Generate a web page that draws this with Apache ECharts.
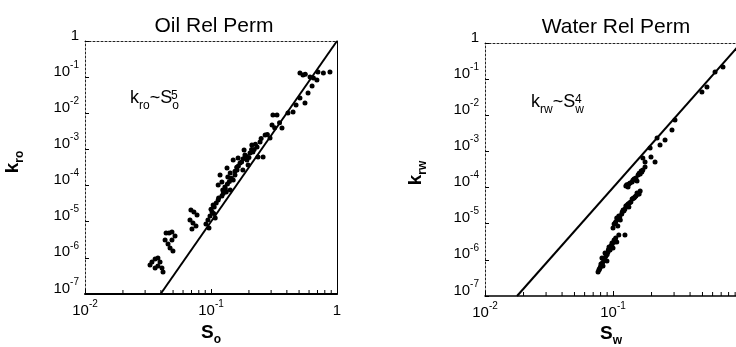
<!DOCTYPE html>
<html><head><meta charset="utf-8">
<script src="https://cdn.jsdelivr.net/npm/echarts@6/dist/echarts.min.js"></script>
<style>html,body{margin:0;padding:0;background:#fff}#c{width:736px;height:347px}</style>
</head><body><div id="c"></div><script>
// ---- data ----
const xMinorTicks = [0.02,0.03,0.04,0.05,0.06,0.07,0.08,0.09,0.2,0.3,0.4,0.5,0.6,0.7,0.8,0.9];
const oilFit = [[0.0398,1e-7],[1,1]];      // k_ro ~ S_o^5
const waterFit = [[0.0178,1e-7],[1,1]];    // k_rw ~ S_w^4
const oilData = [
 [0.0328,6.3e-7],[0.0340,7.7e-7],[0.0360,9.3e-7],[0.0379,9.9e-7],[0.0394,7.7e-7],[0.0379,5.96e-7],[0.0360,5.24e-7],[0.0408,5.24e-7],[0.0416,4.06e-7],
 [0.0432,3.12e-6],[0.0440,4.88e-6],[0.0465,4.88e-6],[0.0490,5.2e-6],[0.0518,4.03e-6],[0.0490,3.12e-6],[0.0456,2.42e-6],[0.0473,1.87e-6],[0.0499,1.55e-6],
 [0.0693,2.11e-5],[0.0732,1.86e-5],[0.0775,1.53e-5],[0.0681,1.12e-5],[0.0719,9.23e-6],[0.0760,7.62e-6],[0.0706,6.3e-6],
 [0.0912,8.65e-6],[0.0946,1.12e-5],[0.0982,1.44e-5],[0.102,1.86e-5],[0.106,2.55e-5],[0.0964,6.7e-6],[0.108,1.27e-5],[0.114,3.99e-5],[0.122,5.15e-5],[0.132,6.64e-5],[0.142,7.55e-5],
 [0.104,2.9e-5],[0.118,1.96e-4],[0.124,7.55e-5],[0.129,9.14e-5],[0.136,1.73e-4],[0.142,2.23e-4],[0.150,1.43e-4],[0.150,5.11e-4],[0.161,2.7e-4],[0.170,4.22e-4],
 [0.179,2.7e-4],[0.186,7.02e-4],[0.193,5.11e-4],[0.197,3.71e-4],[0.204,7.96e-4],[0.215,8.49e-4],[0.232,1.17e-3],[0.236,6.18e-4],[0.259,6.18e-4],[0.269,2.51e-3],
 [0.294,2.07e-3],[0.305,4.74e-3],[0.334,8.97e-3],[0.366,3.92e-3],[0.408,1.02e-2],[0.114,1.04e-4],[0.134,3.06e-4],[0.164,5.79e-4],[0.211,1.33e-3],[0.183,9.66e-4],
 [0.155,1.96e-4],[0.122,1.26e-4],
 [0.125,6e-5],[0.13,8e-5],[0.135,1.1e-4],[0.14,1.3e-4],[0.145,1.6e-4],[0.155,2.5e-4],[0.16,3.2e-4],[0.165,3.5e-4],[0.175,4.5e-4],[0.18,5.5e-4],
 [0.19,6.5e-4],[0.2,6e-4],[0.21,1e-3],[0.22,1e-3],[0.225,1.4e-3],[0.245,1.6e-3],[0.25,2e-3],[0.28,2.6e-3],[0.32,4e-3],[0.35,5.5e-3],
 [0.11,3.3e-5],[0.115,4.5e-5],[0.1,2.2e-5],[0.105,1.7e-5],
 [0.310,8.97e-3],[0.448,1.09e-2],[0.508,2.65e-2],[0.557,1.93e-2],[0.508,0.130],[0.537,0.115],[0.611,0.101],[0.693,0.0834],[0.706,0.139],[0.879,0.139],
 [0.589,0.0365],[0.634,0.0569],[0.473,0.017],[0.56,0.12],[0.65,0.095],[0.78,0.13]
];
const waterData = [
 [0.0764,4.61e-7],[0.0791,5.96e-7],[0.0805,7.67e-7],[0.0835,6.76e-7],[0.0851,9.9e-7],[0.0820,1.12e-6],[0.0881,1.28e-6],[0.0897,9.29e-7],[0.0914,1.65e-6],[0.0948,1.88e-6],
 [0.0931,2.27e-6],[0.0965,2.42e-6],[0.0982,2.93e-6],[0.100,2.13e-6],[0.102,3.55e-6],[0.105,4.03e-6],[0.107,3.12e-6],[0.111,4.88e-6],[0.0866,1.55e-6],[0.0778,5.24e-7],
 [0.083,8.5e-7],[0.086,1.1e-6],[0.09,1.4e-6],[0.092,1.9e-6],[0.095,2.1e-6],[0.098,2.6e-6],[0.101,3.0e-6],[0.104,3.4e-6],[0.08,6.5e-7],[0.078,5.5e-7],
 [0.124,4.88e-6],
 [0.100,7.62e-6],[0.102,9.82e-6],[0.105,1.12e-5],[0.107,1.44e-5],[0.111,1.64e-5],[0.114,1.27e-5],[0.117,1.86e-5],[0.120,2.40e-5],[0.124,2.55e-5],[0.126,3.09e-5],
 [0.131,3.52e-5],[0.133,2.90e-5],[0.138,3.99e-5],[0.141,4.83e-5],[0.146,5.15e-5],[0.151,5.85e-5],[0.154,7.08e-5],[0.160,6.64e-5],[0.163,8.03e-5],[0.109,8.65e-6],
 [0.104,1.05e-5],[0.108,1.3e-5],[0.113,1.55e-5],[0.118,2.1e-5],[0.122,2.3e-5],[0.128,3.2e-5],[0.135,3.8e-5],[0.143,5e-5],[0.148,5.5e-5],[0.156,6.5e-5],
 [0.126,1.11e-4],[0.131,1.04e-4],[0.136,1.34e-4],[0.141,1.43e-4],[0.146,1.73e-4],[0.151,1.84e-4],[0.157,2.23e-4],[0.163,2.38e-4],[0.166,2.88e-4],[0.171,3.06e-4],
 [0.178,3.71e-4],[0.154,1.52e-4],[0.128,1.2e-4],[0.133,1.25e-4],[0.143,1.6e-4],[0.149,1.75e-4],[0.16,2.5e-4],[0.168,2.7e-4],
 [0.178,5.11e-4],[0.198,7.02e-4],[0.213,5.11e-4],[0.195,1.24e-3],[0.171,6.58e-4],
 [0.221,2.36e-3],[0.289,3.92e-3],[0.305,7.41e-3],[0.495,0.0442],[0.542,0.0607],[0.627,0.158],[0.723,0.217],[0.233,1.51e-3],[0.255,2.07e-3]
];
const titles = ['Oil Rel Perm', 'Water Rel Perm'];

// ---- chart ----
const FONT = '"Liberation Sans", Arial, Helvetica, sans-serif';
function powLabel(v){
  const e = Math.round(Math.log10(v));
  return e === 0 ? '{b|1}' : '{b|10}{s|' + e + '}';
}
const labelRich = {
  b:{fontSize:15, fontFamily:FONT, color:'#000', lineHeight:18, verticalAlign:'bottom'},
  s:{fontSize:10, fontFamily:FONT, color:'#000', lineHeight:12, padding:[0,0,9,0], verticalAlign:'bottom'}
};
function xAxisBottom(grid, w){
  return {type:'log', logBase:10, min:0.01, max:1, gridIndex:grid, position:'bottom',
    axisLine:{show:true, lineStyle:{color:'#000', width:w}},
    axisTick:{show:true, inside:true, length:5, lineStyle:{color:'#000'}},
    axisLabel:{formatter:powLabel, rich:labelRich, margin:6, hideOverlap:false},
    splitLine:{show:false}};
}
function xAxisTop(grid){
  return {type:'log', logBase:10, min:0.01, max:1, gridIndex:grid, position:'top',
    axisLine:{show:true, lineStyle:{color:'#222', width:1, type:[2,2]}},
    axisTick:{show:false}, axisLabel:{show:false}, splitLine:{show:false}};
}
function yAxisLeft(grid){
  return {type:'log', logBase:10, min:1e-7, max:1, gridIndex:grid, position:'left',
    axisLine:{show:true, lineStyle:{color:'#222', width:1, type:[2,2]}},
    axisTick:{show:true, inside:true, length:4, lineStyle:{color:'#000'}},
    axisLabel:{formatter:powLabel, rich:labelRich, margin:6, padding:[0,0,14,0]},
    splitLine:{show:false}};
}
const chart = echarts.init(document.getElementById('c'), null, {renderer:'canvas'});
const nameRich = {
  k:{fontSize:19, fontWeight:'bold', fontFamily:FONT, fill:'#000', lineHeight:20, padding:[0,0,4,0], verticalAlign:'bottom'},
  s:{fontSize:12, fontWeight:'bold', fontFamily:FONT, fill:'#000', lineHeight:14, verticalAlign:'bottom'}
};
const annRich = {
  k:{fontSize:18, fontFamily:FONT, fill:'#000', lineHeight:19, padding:[0,0,4,0], verticalAlign:'bottom'},
  s:{fontSize:12, fontFamily:FONT, fill:'#000', lineHeight:13, verticalAlign:'bottom'}
};
const dot = {color:'#000', opacity:1};
chart.setOption({
  animation:false,
  backgroundColor:'#fff',
  grid:[
    {left:85, top:41, width:252, height:253, outerBoundsMode:'none', containLabel:false},
    {left:485, top:43, width:256, height:253, outerBoundsMode:'none', containLabel:false}
  ],
  xAxis:[xAxisBottom(0,2), xAxisTop(0), xAxisBottom(1,1.5), xAxisTop(1)],
  yAxis:[yAxisLeft(0),
    {type:'log', logBase:10, min:1e-7, max:1, gridIndex:0, position:'right',
     axisLine:{show:true, lineStyle:{color:'#000', width:1}}, axisTick:{show:false}, axisLabel:{show:false}, splitLine:{show:false}},
    yAxisLeft(1)],
  series:[
    {type:'scatter', xAxisIndex:0, yAxisIndex:0, data:oilData, symbolSize:5, itemStyle:dot},
    {type:'line', xAxisIndex:0, yAxisIndex:0, data:oilFit, showSymbol:false, lineStyle:{color:'#000', width:2}},
    {type:'scatter', xAxisIndex:0, yAxisIndex:0, data:xMinorTicks.map(v=>[v,1e-7]), symbol:'rect', symbolSize:[1,4], symbolOffset:[0,-2], clip:false, itemStyle:dot},
    {type:'scatter', xAxisIndex:2, yAxisIndex:2, data:waterData, symbolSize:5, itemStyle:dot},
    {type:'line', xAxisIndex:2, yAxisIndex:2, data:waterFit, showSymbol:false, lineStyle:{color:'#000', width:2}},
    {type:'scatter', xAxisIndex:2, yAxisIndex:2, data:xMinorTicks.map(v=>[v,1e-7]), symbol:'rect', symbolSize:[1,4], symbolOffset:[0,-2], clip:false, itemStyle:dot}
  ],
  graphic:[
    {type:'text', x:214, y:26, style:{text:titles[0], font:'21px '+FONT, fill:'#000', align:'center', verticalAlign:'middle'}},
    {type:'text', x:616, y:27, style:{text:titles[1], font:'21px '+FONT, fill:'#000', align:'center', verticalAlign:'middle'}},
    {type:'text', x:16, y:162, rotation:Math.PI/2, style:{text:'{k|k}{s|ro}', align:'center', verticalAlign:'middle', rich:nameRich}},
    {type:'text', x:419, y:173, rotation:Math.PI/2, style:{text:'{k|k}{s|rw}', align:'center', verticalAlign:'middle', rich:nameRich}},
    {type:'text', x:211, y:336, style:{text:'{k|S}{s|o}', align:'center', verticalAlign:'middle', rich:nameRich}},
    {type:'text', x:611, y:337, style:{text:'{k|S}{s|w}', align:'center', verticalAlign:'middle', rich:nameRich}},
    {type:'text', x:130, y:102, style:{text:'{k|k}{s|ro}{k|~S}{s|o}', align:'left', verticalAlign:'middle', rich:annRich}},
    {type:'text', x:171, y:96, style:{text:'5', font:'12px '+FONT, fill:'#000', align:'left', verticalAlign:'middle'}},
    {type:'text', x:531, y:106, style:{text:'{k|k}{s|rw}{k|~S}{s|w}', align:'left', verticalAlign:'middle', rich:annRich}},
    {type:'text', x:575, y:100, style:{text:'4', font:'12px '+FONT, fill:'#000', align:'left', verticalAlign:'middle'}}
  ]
});
</script></body></html>
